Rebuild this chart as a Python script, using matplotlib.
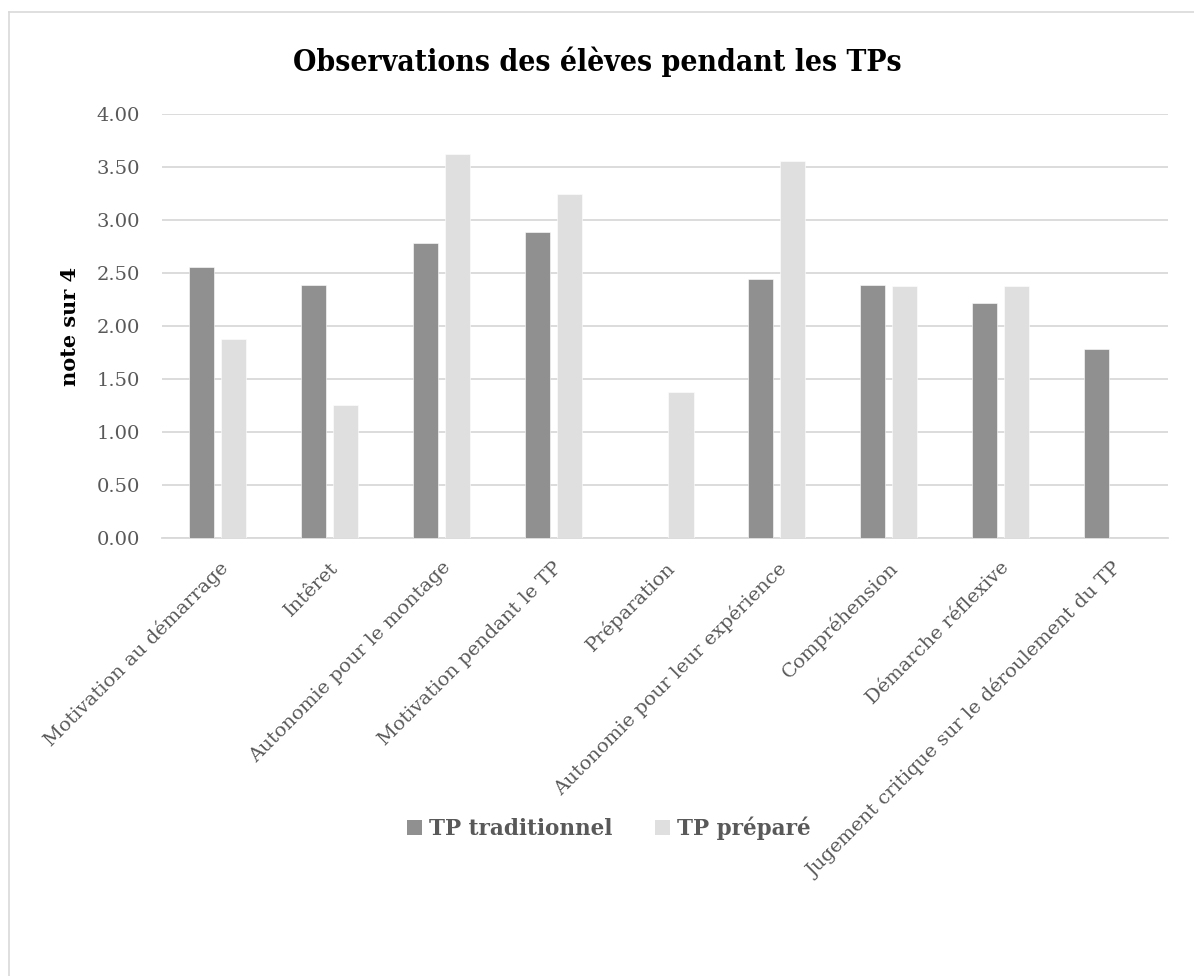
import matplotlib
matplotlib.use("Agg")
import matplotlib.pyplot as plt
from matplotlib.lines import Line2D
from matplotlib.patches import Patch
import numpy as np

categories = [
    "Motivation au démarrage",
    "Intêret",
    "Autonomie pour le montage",
    "Motivation pendant le TP",
    "Préparation",
    "Autonomie pour leur expérience",
    "Compréhension",
    "Démarche réflexive",
    "Jugement critique sur le déroulement du TP",
]
tp_traditionnel = [2.56, 2.39, 2.78, 2.89, 0.00, 2.44, 2.39, 2.22, 1.78]
tp_prepare = [1.875, 1.25, 3.625, 3.25, 1.375, 3.5625, 2.375, 2.375, 0.00]
series_names = ["TP traditionnel", "TP préparé"]
yticks = [0.0, 0.5, 1.0, 1.5, 2.0, 2.5, 3.0, 3.5, 4.0]

DARK = "#909090"
LIGHT = "#dfdfdf"
TEXT = "#595959"
GRID = "#d9d9d9"
FONT = "DejaVu Serif"

W, H = 1194, 976
fig = plt.figure(figsize=(W / 100, H / 100), dpi=100)
fig.patch.set_facecolor("white")

# outer chart frame (left and top edges visible)
fig.add_artist(Line2D([9 / W, 9 / W], [0, 1 - 12 / H], transform=fig.transFigure,
                      color=GRID, lw=1.2))
fig.add_artist(Line2D([9 / W, 1], [1 - 12 / H, 1 - 12 / H], transform=fig.transFigure,
                      color=GRID, lw=1.2))

left, right, top, bottom = 162, 1168, 114.3, 537.7
ax = fig.add_axes([left / W, 1 - bottom / H, (right - left) / W, (bottom - top) / H])

x = np.arange(len(categories))
bw = 0.224
off = 0.143
ax.bar(x - off, tp_traditionnel, bw, color=DARK, edgecolor="white", linewidth=0.4, zorder=3)
ax.bar(x + off, tp_prepare, bw, color=LIGHT, edgecolor="white", linewidth=0.4, zorder=3)

ax.set_xlim(-0.5, len(categories) - 0.5)
ax.set_ylim(0, 4)
ax.set_yticks(yticks)
ax.set_yticklabels([f"{v:.2f}" for v in yticks], fontfamily=FONT, fontsize=14, color=TEXT)
ax.yaxis.grid(True, color=GRID, linewidth=1.3, zorder=0)
ax.set_axisbelow(True)
for s in ["left", "right", "top"]:
    ax.spines[s].set_visible(False)
ax.spines["bottom"].set_color(GRID)
ax.spines["bottom"].set_linewidth(1.3)
ax.tick_params(axis="both", length=0)
ax.tick_params(axis="y", pad=16)

ax.set_xticks(x)
ax.set_xticklabels(categories, rotation=45, ha="right", rotation_mode="anchor",
                   fontfamily=FONT, fontsize=14, color=TEXT)
ax.tick_params(axis="x", pad=15)

ax.set_ylabel("note sur 4", fontfamily=FONT, fontsize=15, fontweight="bold",
              color="black", labelpad=12)

fig.text(0.5, 1 - 62 / H, "Observations des élèves pendant les TPs", ha="center",
         va="center", fontfamily=FONT, fontstretch="condensed", fontsize=21.5,
         fontweight="bold", color="black")

handles = [Patch(facecolor=DARK), Patch(facecolor=LIGHT)]
leg = fig.legend(handles, series_names, loc="center", bbox_to_anchor=(0.51, 1 - 828 / H),
                 ncol=2, frameon=False, handlelength=0.7, handleheight=0.7,
                 handletextpad=0.3, columnspacing=2.0,
                 prop={"family": FONT, "size": 15.5, "weight": "bold"})
for t in leg.get_texts():
    t.set_color(TEXT)

fig.savefig("out.png", dpi=100)
